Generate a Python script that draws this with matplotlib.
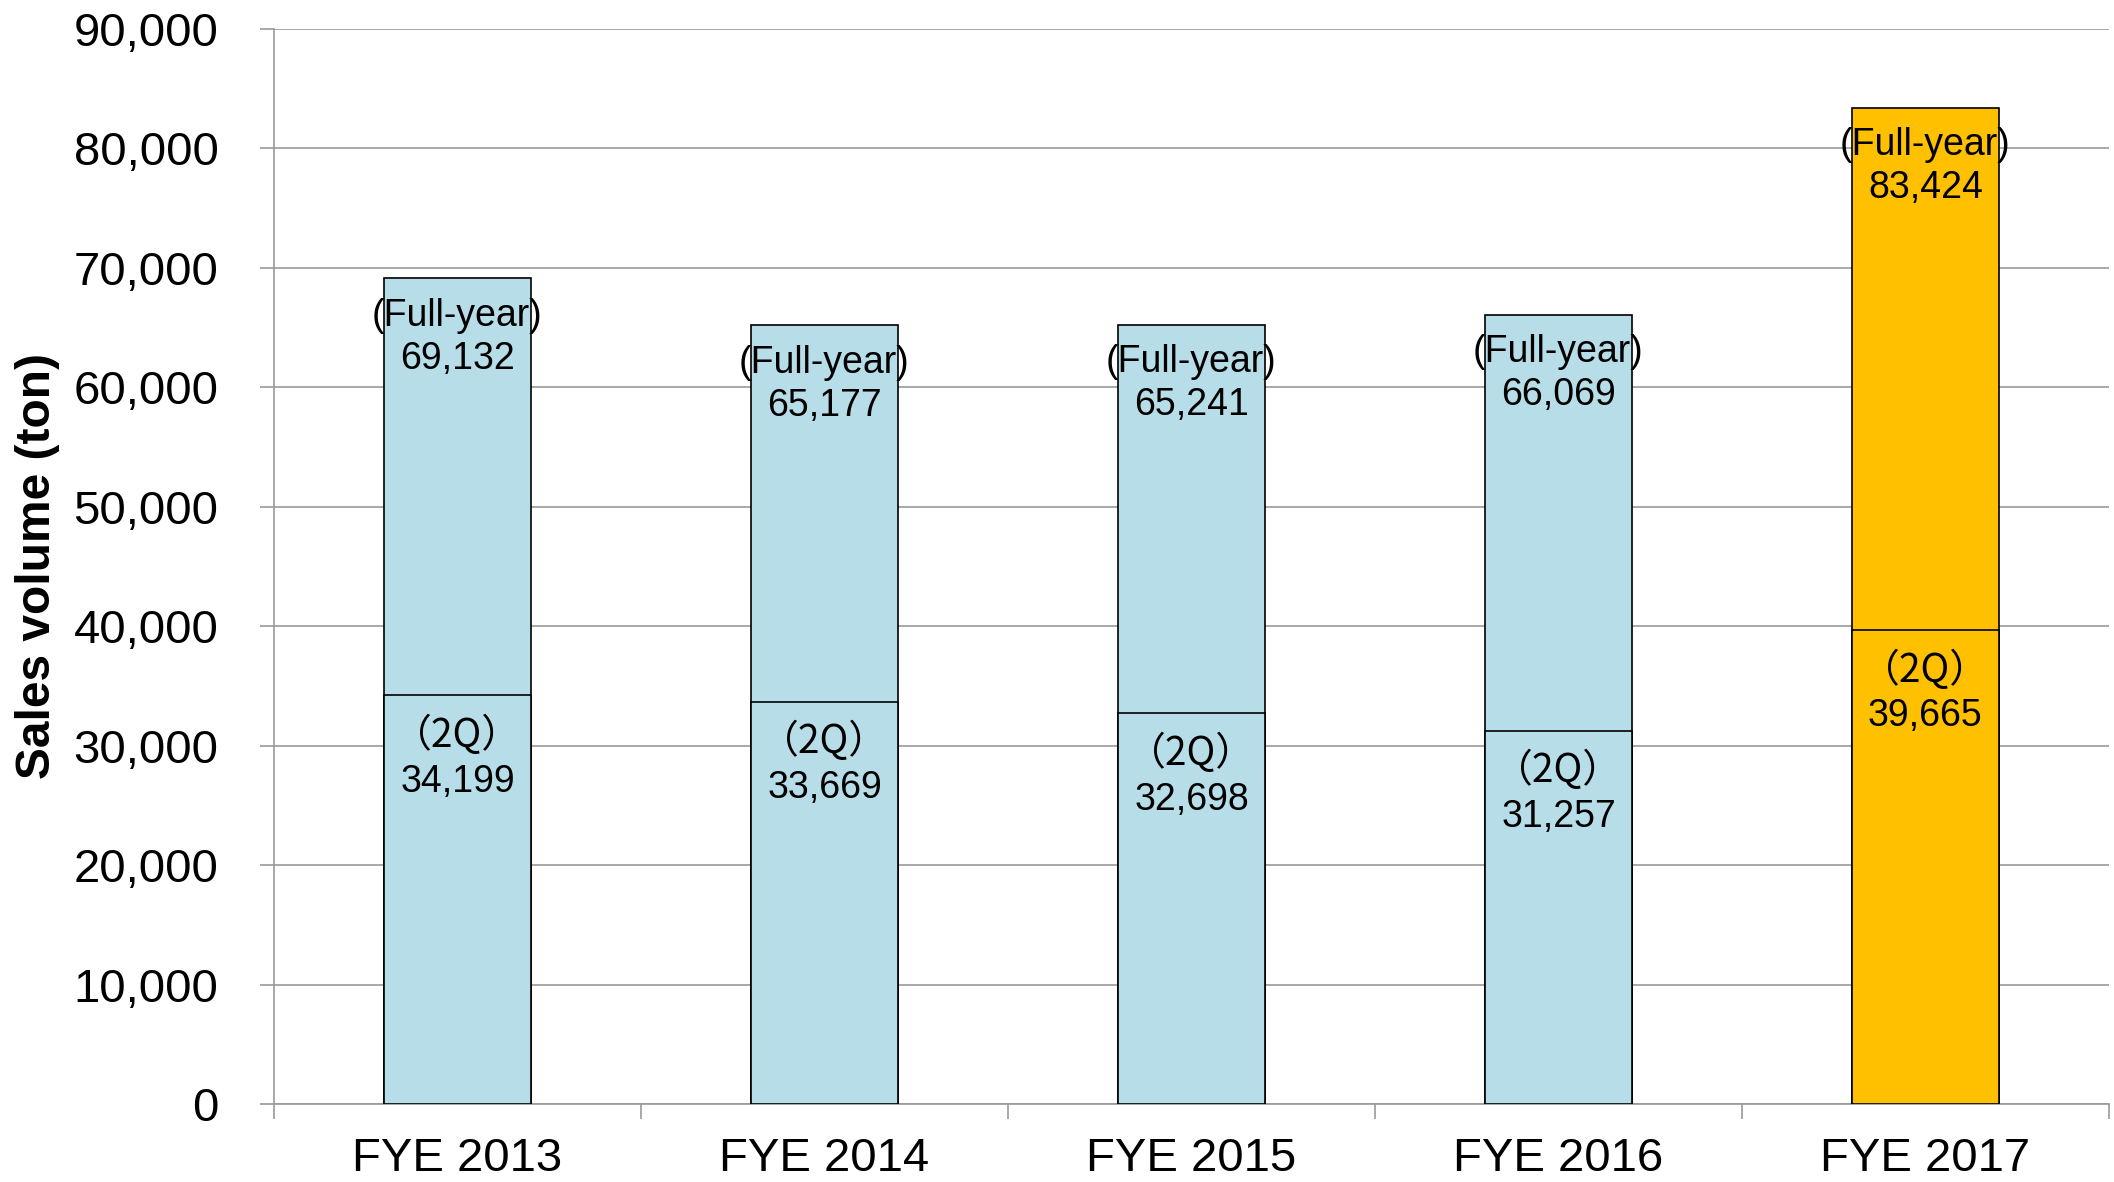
import matplotlib.pyplot as plt
from matplotlib.ticker import FuncFormatter, FixedLocator

plt.rcParams['font.family'] = ['Liberation Sans', 'Noto Sans CJK JP', 'DejaVu Sans']

years = ['FYE 2013', 'FYE 2014', 'FYE 2015', 'FYE 2016', 'FYE 2017']
full_year = [69132, 65177, 65241, 66069, 83424]
q2 = [34199, 33669, 32698, 31257, 39665]
colors = ['#B7DEE8', '#B7DEE8', '#B7DEE8', '#B7DEE8', '#FFC000']

fig = plt.figure(figsize=(21.14, 11.82), dpi=100)
ax = fig.add_axes([0.1296, 0.066, 0.868, 0.9095])

x = range(len(years))
ax.bar(x, full_year, width=0.4, color=colors, edgecolor='black', linewidth=1.2, zorder=3)
ax.bar(x, q2, width=0.4, color=colors, edgecolor='black', linewidth=1.2, zorder=4)

for i in x:
    # full-year label
    ax.annotate('(Full-year)', (i, full_year[i]), xytext=(0, -27), textcoords='offset points',
                ha='center', va='center', fontsize=27, zorder=5)
    ax.annotate('{:,}'.format(full_year[i]), (i, full_year[i]), xytext=(0, -58),
                textcoords='offset points', ha='center', va='center', fontsize=27, zorder=5)
    # 2Q label, full-width brackets
    ax.annotate('（2Q）', (i, q2[i]), xytext=(0, -29), textcoords='offset points',
                ha='center', va='center', fontsize=28, family=['Noto Sans CJK JP'], zorder=5)
    ax.annotate('{:,}'.format(q2[i]), (i, q2[i]), xytext=(0, -62),
                textcoords='offset points', ha='center', va='center', fontsize=27, zorder=5)

ax.set_xlim(-0.5, 4.5)
ax.set_ylim(0, 90000)
ax.set_yticks(range(0, 90001, 10000))
ax.yaxis.set_major_formatter(FuncFormatter(lambda v, p: '{:,}'.format(int(v))))
ax.set_xticks(list(x))
ax.set_xticklabels(years)
ax.xaxis.set_minor_locator(FixedLocator([-0.5, 0.5, 1.5, 2.5, 3.5, 4.5]))

ax.grid(axis='y', color='#999999', linewidth=1.2, zorder=0)
for s in ['top', 'right']:
    ax.spines[s].set_visible(False)
for s in ['left', 'bottom']:
    ax.spines[s].set_color('#999999')
    ax.spines[s].set_linewidth(1.2)

ax.tick_params(axis='y', length=10, width=1.2, color='#999999', labelsize=34, pad=30)
ax.tick_params(axis='x', which='major', length=0, labelsize=34, pad=24)
ax.tick_params(axis='x', which='minor', length=11, width=1.2, color='#999999')

ax.set_ylabel('Sales volume (ton)', fontsize=34.5, fontweight='bold')
ax.yaxis.set_label_coords(-0.1167, 0.5)

fig.savefig('out.png', dpi=100)
